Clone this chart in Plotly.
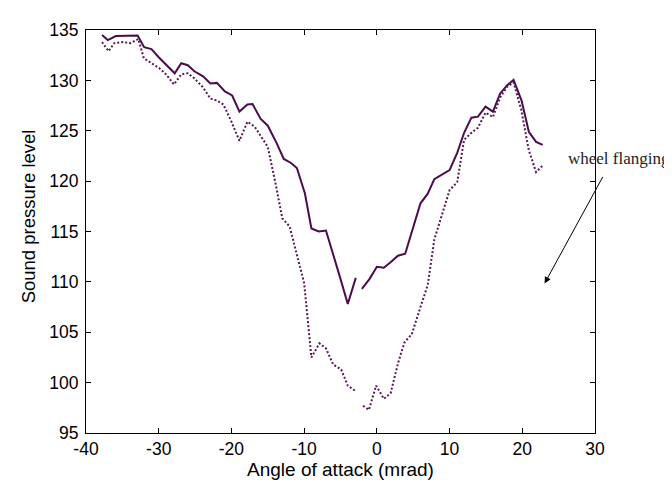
import plotly.graph_objects as go

# Solid curve (None = break in the line)
x_solid = [-37.8, -37.0, -35.9, -34.9, -33.8, -32.9, -32.0, -31.0, -30.0, -29.0,
           -27.8, -26.9, -26.0, -25.1, -23.9, -22.9, -22.0, -20.9, -19.9, -18.9,
           -17.8, -17.1, -16.0, -15.0, -13.8, -12.8, -11.8, -11.0, -9.9, -9.0,
           -8.0, -7.0, -6.05, -5.0, -4.0, -2.9, None,
           -2.06, -1.0, 0.0, 0.96, 1.97, 2.9, 3.9, 6.0, 7.0, 7.9,
           10.0, 11.05, 12.0, 13.0, 13.9, 14.95, 15.96, 16.96, 17.9, 18.8,
           19.9, 20.9, 21.9, 22.8]
y_solid = [134.5, 134.0, 134.4, 134.4, 134.4, 134.45, 133.3, 133.1, 132.3, 131.6,
           130.7, 131.7, 131.5, 130.9, 130.4, 129.7, 129.75, 128.9, 128.5, 126.9,
           127.6, 127.65, 126.2, 125.5, 123.8, 122.2, 121.8, 121.3, 118.8, 115.3,
           115.0, 115.1, 112.9, 110.3, 107.8, 110.4, None,
           109.3, 110.3, 111.5, 111.4, 112.0, 112.6, 112.8, 117.8, 118.75, 120.2,
           121.1, 122.8, 124.8, 126.3, 126.4, 127.4, 126.9, 128.7, 129.5, 130.05,
           128.0, 124.9, 123.9, 123.6]

# Dotted curve
x_dotted = [-37.8, -36.9, -36.1, -34.9, -33.9, -32.8, -32.05, -31.0, -29.9, -29.0,
            -27.9, -26.9, -26.0, -25.1, -23.9, -22.9, -22.0, -21.1, -20.0, -18.9,
            -17.8, -16.8, -15.9, -15.0, -14.0, -13.0, -12.0, -11.0, -10.0, -9.0,
            -7.9, -7.0, -6.0, -4.9, -4.0, -3.0, None,
            -1.9, -1.1, -0.1, 0.96, 1.9, 2.9, 3.8, 4.8, 6.0, 7.0,
            7.9, 9.1, 10.0, 11.05, 12.0, 13.0, 13.9, 14.95, 15.96, 16.96,
            17.9, 18.8, 19.85, 20.9, 21.9, 22.8]
y_dotted = [133.8, 132.9, 133.7, 133.8, 133.7, 134.1, 132.2, 131.7, 131.2, 130.6,
            129.6, 130.6, 130.7, 130.2, 129.3, 128.2, 128.0, 127.6, 125.9, 124.0,
            125.9, 125.4, 124.4, 123.4, 120.0, 116.3, 115.5, 112.8, 109.9, 102.5,
            103.9, 103.4, 101.8, 101.3, 99.7, 99.2, None,
            97.7, 97.3, 99.7, 98.4, 98.95, 101.9, 104.0, 104.8, 107.5, 109.7,
            114.2, 117.1, 119.1, 119.9, 124.1, 124.8, 125.3, 126.8, 126.35, 128.3,
            129.35, 129.8, 127.1, 123.05, 120.9, 121.55]

x_ticks = [-40, -30, -20, -10, 0, 10, 20, 30]
y_ticks = [95, 100, 105, 110, 115, 120, 125, 130, 135]

x_title = "Angle of attack (mrad)"
y_title = "Sound pressure level"
note_text = "wheel flanging"
arrow_head = (23.07, 109.85)
y_title_center = 116.5

line_color = "#4b0c4b"
axis_font = "Liberation Sans, Arial, sans-serif"

fig = go.Figure()
fig.add_trace(go.Scatter(x=x_solid, y=y_solid, mode="lines", connectgaps=False,
                         line=dict(color=line_color, width=2), showlegend=False))
fig.add_trace(go.Scatter(x=x_dotted, y=y_dotted, mode="lines", connectgaps=False,
                         line=dict(color="#551a55", width=2, dash="2px,2px"),
                         showlegend=False))

axis_common = dict(showline=True, linecolor="black", linewidth=1, mirror="ticks",
                   ticks="inside", ticklen=5, tickcolor="black", showgrid=False,
                   zeroline=False, tickfont=dict(family=axis_font, size=17.5, color="black"))

fig.update_xaxes(range=[-40, 30], tickvals=x_ticks, ticktext=[str(v) for v in x_ticks],
                 title=dict(text=x_title, font=dict(family=axis_font, size=19, color="black"),
                            standoff=4),
                 **axis_common)
fig.update_yaxes(range=[95, 135], tickvals=y_ticks, ticktext=[str(v) for v in y_ticks],
                 ticklabelstandoff=3, **axis_common)

# y-axis title as a rotated annotation (slightly above the axis centre, as in the source)
fig.add_annotation(x=-0.114, y=y_title_center, xref="paper", yref="y", text=y_title,
                   textangle=-90, showarrow=False, xanchor="center", yanchor="middle",
                   font=dict(family=axis_font, size=18.5, color="black"))

fig.add_annotation(x=1.151, y=0.68, xref="paper", yref="paper", text=note_text,
                   showarrow=False, xanchor="right", yanchor="middle",
                   font=dict(family="Liberation Serif, Times New Roman, serif", size=17,
                             color="#222222"))
fig.add_annotation(x=arrow_head[0], y=arrow_head[1], xref="x", yref="y", text="",
                   showarrow=True, ax=59, ay=-108, axref="pixel", ayref="pixel",
                   arrowhead=2, arrowsize=1.3, arrowwidth=1, arrowcolor="black")

fig.update_layout(width=672, height=480, margin=dict(l=78, r=85, t=16, b=52),
                  plot_bgcolor="white", paper_bgcolor="white")

fig.write_html("out.html")
